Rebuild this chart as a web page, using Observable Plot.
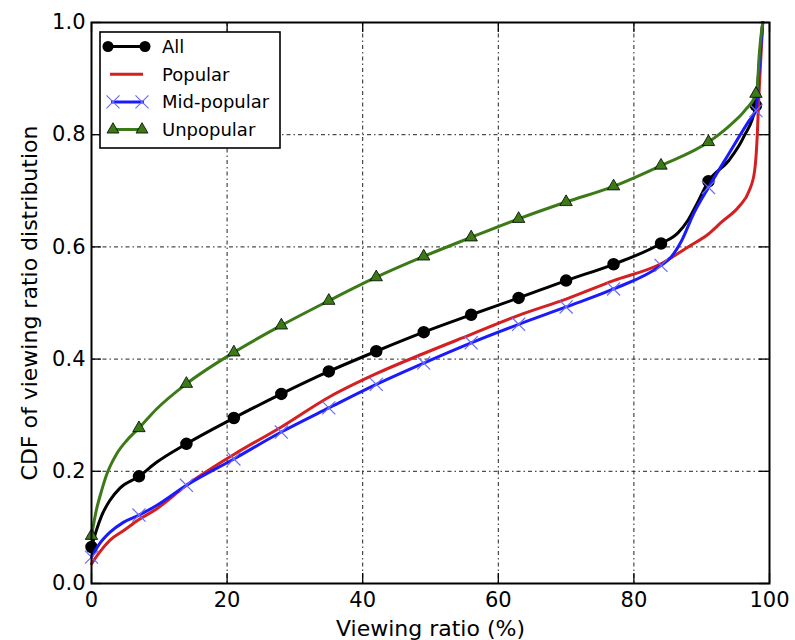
<!DOCTYPE html>
<html><head><meta charset="utf-8">
<script src="https://cdn.jsdelivr.net/npm/d3@7"></script>
<script src="https://cdn.jsdelivr.net/npm/@observablehq/plot@0.6"></script>
<style>body{margin:0;background:#fff;} svg{display:block}</style>
</head><body><div id="chart"></div>
<script>
// ---- data ----
const seriesNames = ["All", "Popular", "Mid-popular", "Unpopular"];

const allX = [0, 0.7, 1.5, 2.7, 4.2, 7, 9.6, 14, 21, 28, 35, 42, 49, 56, 63, 70, 77, 84, 86.5, 88, 89.3, 91, 94, 96.2, 98, 98.5, 99];
const allY = [0.065, 0.094, 0.121, 0.148, 0.17, 0.191, 0.216, 0.249, 0.295, 0.338, 0.378, 0.414, 0.448, 0.479, 0.509, 0.54, 0.569, 0.606, 0.625, 0.648, 0.677, 0.717, 0.754, 0.796, 0.852, 0.93, 1.0];

const popularX = [0, 1.2, 2.7, 4.7, 7, 9.6, 14, 21, 28, 35, 42, 49, 56, 63, 70, 77, 84, 88, 91, 93, 95.5, 97, 97.8, 98.2, 98.4, 98.7, 99];
const popularY = [0.035, 0.056, 0.077, 0.094, 0.114, 0.133, 0.175, 0.23, 0.279, 0.332, 0.374, 0.41, 0.444, 0.478, 0.507, 0.54, 0.57, 0.6, 0.623, 0.645, 0.672, 0.70, 0.735, 0.80, 0.86, 0.93, 1.0];

const midX = [0, 1.2, 2.7, 4.7, 7, 9.6, 14, 21, 28, 35, 42, 49, 56, 63, 70, 77, 84, 85.5, 87, 88.8, 91, 94, 97, 98, 98.5, 99];
const midY = [0.047, 0.071, 0.091, 0.109, 0.122, 0.139, 0.175, 0.222, 0.27, 0.313, 0.355, 0.393, 0.429, 0.462, 0.493, 0.525, 0.567, 0.582, 0.61, 0.659, 0.706, 0.766, 0.825, 0.843, 0.92, 1.0];

const unpopX = [0, 0.7, 1.5, 2.2, 3.7, 5.2, 7, 9.6, 14, 21, 28, 35, 42, 49, 56, 63, 70, 77, 84, 91, 94, 96.5, 98, 98.2, 98.5, 99];
const unpopY = [0.085, 0.13, 0.166, 0.193, 0.231, 0.255, 0.277, 0.311, 0.356, 0.412, 0.46, 0.504, 0.546, 0.583, 0.617, 0.65, 0.68, 0.708, 0.745, 0.787, 0.815, 0.845, 0.873, 0.885, 0.945, 1.0];

const markerX = [0, 7, 14, 21, 28, 35, 42, 49, 56, 63, 70, 77, 84, 91, 98];

const xTicks = [0, 20, 40, 60, 80, 100];
const xTickLabels = ["0", "20", "40", "60", "80", "100"];
const yTicks = [0, 0.2, 0.4, 0.6, 0.8, 1.0];
const yTickLabels = ["0.0", "0.2", "0.4", "0.6", "0.8", "1.0"];
const xLabel = "Viewing ratio (%)";
const yLabel = "CDF of viewing ratio distribution";

// ---- styles ----
const colAll = "#000000", colPop = "#d42020", colMid = "#1a1aff", colUnp = "#3c7a18", colMidMark = "#6a6aff";
const font = "DejaVu Sans, sans-serif";

const rows = (xs, ys) => xs.map((x, i) => ({x, y: ys[i]}));
const allData = rows(allX, allY);
const popData = rows(popularX, popularY);
const midData = rows(midX, midY);
const unpData = rows(unpopX, unpopY);
const atMarkers = d => markerX.includes(d.x);

const tickLenX = 10 / 6.78;   // inward tick length expressed in data units
const tickLenY = 10 / 561;

const plot = Plot.plot({
  width: 795, height: 640,
  marginLeft: 91, marginRight: 26, marginTop: 22, marginBottom: 57,
  x: {domain: [0, 100]},
  y: {domain: [0, 1]},
  style: {fontFamily: font, background: "white", color: "black"},
  marks: [
    Plot.ruleX(xTicks.slice(1, -1), {stroke: "#222", strokeWidth: 1, strokeDasharray: "4,3,1.5,3"}),
    Plot.ruleY(yTicks.slice(1, -1), {stroke: "#222", strokeWidth: 1, strokeDasharray: "4,3,1.5,3"}),

    Plot.line(allData, {x: "x", y: "y", stroke: colAll, strokeWidth: 3, curve: "monotone-x"}),
    Plot.dot(allData.filter(atMarkers), {x: "x", y: "y", r: 5.5, fill: colAll, stroke: colAll}),

    Plot.line(popData, {x: "x", y: "y", stroke: colPop, strokeWidth: 3, curve: "monotone-x"}),

    Plot.line(midData, {x: "x", y: "y", stroke: colMid, strokeWidth: 3, curve: "monotone-x"}),
    Plot.dot(midData.filter(atMarkers), {x: "x", y: "y", symbol: "times", r: 6, stroke: colMidMark, strokeWidth: 1.2}),

    Plot.line(unpData, {x: "x", y: "y", stroke: colUnp, strokeWidth: 3, curve: "monotone-x"}),
    Plot.dot(unpData.filter(atMarkers), {x: "x", y: "y", symbol: "triangle", r: 4.6, fill: colUnp, stroke: "#000", strokeWidth: 0.8}),

    // inward ticks on all four sides
    Plot.ruleY(yTicks, {x1: 0, x2: tickLenX, stroke: "black", strokeWidth: 1.3}),
    Plot.ruleY(yTicks, {x1: 100 - tickLenX, x2: 100, stroke: "black", strokeWidth: 1.3}),
    Plot.ruleX(xTicks, {y1: 0, y2: tickLenY, stroke: "black", strokeWidth: 1.3}),
    Plot.ruleX(xTicks, {y1: 1 - tickLenY, y2: 1, stroke: "black", strokeWidth: 1.3}),
    Plot.frame({stroke: "black", strokeWidth: 2}),

    Plot.axisX(xTicks, {tickSize: 0, tickPadding: 9, fontSize: 21, label: null,
      tickFormat: d => xTickLabels[xTicks.indexOf(d)]}),
    Plot.axisY(yTicks, {tickSize: 0, tickPadding: 6, fontSize: 21, label: null,
      tickFormat: d => yTickLabels[yTicks.indexOf(d)]}),

    Plot.text([xLabel], {frameAnchor: "bottom", dy: 45, fontSize: 22, textAnchor: "middle", lineAnchor: "middle"}),
    Plot.text([yLabel], {frameAnchor: "left", dx: -62, rotate: -90, fontSize: 22, textAnchor: "middle", lineAnchor: "middle"})
  ]
});

document.getElementById("chart").appendChild(plot);

// ---- legend (inside plot area, upper left) ----
const svg = d3.select(plot);
const lg = svg.append("g").attr("font-family", font).attr("font-size", 18).attr("text-anchor", "start");
lg.append("rect").attr("x", 100).attr("y", 32).attr("width", 180).attr("height", 116)
  .attr("fill", "white").attr("stroke", "black").attr("stroke-width", 1.6);
const legendStyles = [
  {color: colAll, marker: "circle"},
  {color: colPop, marker: null},
  {color: colMid, marker: "times"},
  {color: colUnp, marker: "triangle"}
];
seriesNames.forEach((name, i) => {
  const cy = 46.5 + i * 27.7;
  const st = legendStyles[i];
  const x1 = st.marker === "circle" ? 108 : (st.marker ? 111 : 110);
  const x2 = st.marker === "circle" ? 145 : (st.marker ? 144 : 143);
  lg.append("line").attr("x1", x1).attr("x2", x2).attr("y1", cy).attr("y2", cy)
    .attr("stroke", st.color).attr("stroke-width", 3);
  [x1 + (st.marker === "circle" ? 0 : 2), x2 - (st.marker === "circle" ? 0 : 2)].forEach(mx => {
    if (st.marker === "circle") {
      lg.append("circle").attr("cx", mx).attr("cy", cy).attr("r", 5.5).attr("fill", colAll);
    } else if (st.marker === "triangle") {
      lg.append("path").attr("transform", `translate(${mx},${cy})`)
        .attr("d", d3.symbol(d3.symbolTriangle, 62)()).attr("fill", colUnp).attr("stroke", "#000").attr("stroke-width", 0.8);
    } else if (st.marker === "times") {
      lg.append("path").attr("transform", `translate(${mx},${cy})`)
        .attr("d", d3.symbol(d3.symbolTimes, 113)()).attr("fill", "none").attr("stroke", colMidMark).attr("stroke-width", 1.2);
    }
  });
  lg.append("text").attr("x", 162).attr("y", cy).attr("dy", "0.35em").attr("text-anchor", "start").attr("fill", "black").text(name);
});
</script>
</body></html>
